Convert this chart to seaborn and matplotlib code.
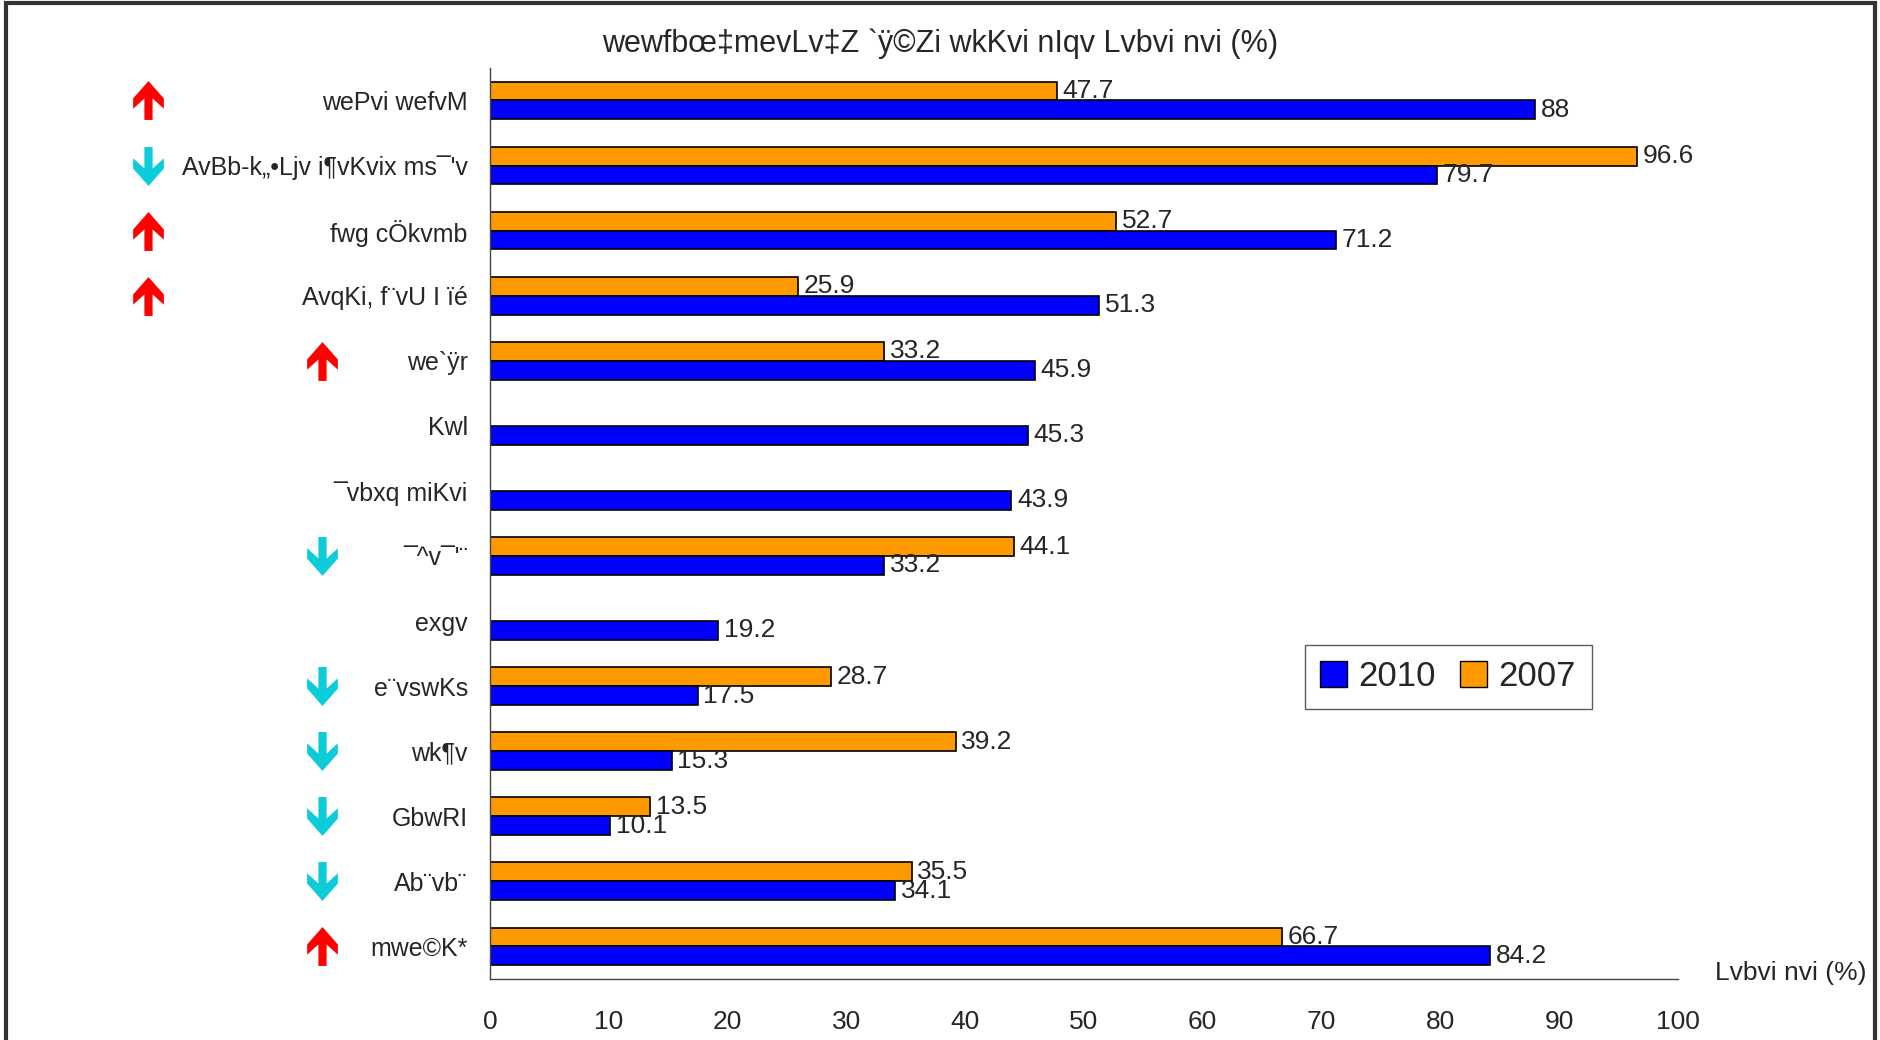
import numpy as np
import pandas as pd
import seaborn as sns
import matplotlib.pyplot as plt
import matplotlib.transforms as mtransforms
from matplotlib.path import Path
from matplotlib.patches import Patch, Rectangle

# data (labels in SutonnyMJ-style encoded Bangla, as in the source)
categories = ["wePvi wefvM", "AvBb-k„•Ljv i¶vKvix ms¯'v", "fwg cÖkvmb", "AvqKi, f¨vU I ïé",
              "we`ÿr", "Kwl", "¯vbxq miKvi", "¯^v¯'¨", "exgv", "e¨vswKs", "wk¶v", "GbwRI",
              "Ab¨vb¨", "mwe©K*"]
vals_2010 = [88, 79.7, 71.2, 51.3, 45.9, 45.3, 43.9, 33.2, 19.2, 17.5, 15.3, 10.1, 34.1, 84.2]
vals_2007 = [47.7, 96.6, 52.7, 25.9, 33.2, np.nan, np.nan, 44.1, np.nan, 28.7, 39.2, 13.5, 35.5, 66.7]
trend = ['up', 'down', 'up', 'up', 'up', None, None, 'down', None, 'down', 'down', 'down', 'down', 'up']
title = "wewfbœ‡mevLv‡Z `ÿ©Zi wkKvi nIqv Lvbvi nvi (%)"
xlabel = "Lvbvi nvi (%)"

df = pd.DataFrame({
    'cat': categories * 2,
    'year': ['2007'] * len(categories) + ['2010'] * len(categories),
    'val': vals_2007 + vals_2010,
})

sns.set_style('white')
plt.rcParams['font.family'] = ['Liberation Sans', 'DejaVu Sans']

colors = {'2010': '#0000FF', '2007': '#FF9900'}

fig = plt.figure(figsize=(18.81, 10.40), dpi=100)
ax = fig.add_axes([0.2605, 0.0587, 0.6315, 0.876])

sns.barplot(data=df, x='val', y='cat', hue='year', hue_order=['2007', '2010'],
            palette=colors, saturation=1, orient='h', width=0.58, gap=0, edgecolor='black',
            linewidth=1.2, legend=False, ax=ax)

for cont in ax.containers:
    ax.bar_label(cont, fmt='{:g}', padding=4, fontsize=19)

ax.set_xlim(0, 100)
ax.set_ylim(len(categories) - 0.5, -0.5)
ax.set_xticks(np.arange(0, 101, 10))
ax.tick_params(axis='x', labelsize=19, length=5, width=1, pad=17, direction='out', color='#444')
ax.set_yticks(np.arange(-0.5, len(categories), 1))
ax.set_yticklabels([])
ax.set_yticks(np.arange(len(categories)), minor=True)
ax.set_yticklabels(categories, minor=True, fontsize=18)
ax.tick_params(axis='y', which='major', length=7, width=1, direction='out', color='#444')
ax.tick_params(axis='y', which='minor', length=0, pad=16)
ax.set_xlabel('')
ax.set_ylabel('')
sns.despine(ax=ax)
for s in ['left', 'bottom']:
    ax.spines[s].set_color('#444')
    ax.spines[s].set_linewidth(1)

ax.text(1.031, 0.006, xlabel, transform=ax.transAxes, fontsize=19, va='center', ha='left')
fig.text(0.5, 0.958, title, fontsize=22, ha='center', va='center')

handles = [Patch(facecolor=colors['2010'], edgecolor='black', label='2010'),
           Patch(facecolor=colors['2007'], edgecolor='black', label='2007')]
leg = ax.legend(handles=handles, loc='upper left', bbox_to_anchor=(0.686, 0.367), ncol=2,
                fontsize=25, frameon=True, fancybox=False, handlelength=0.75, handleheight=0.75,
                handletextpad=0.35, columnspacing=0.7, borderpad=0.45, borderaxespad=0)
leg.get_frame().set_edgecolor('#333')
leg.get_frame().set_linewidth(1)

# trend arrows: chevron-style block arrow markers
down_v = [(-4, 19), (4, 19), (4, -2), (15, 8), (15, -2), (0, -19), (-15, -2), (-15, 8), (-4, -2), (-4, 19)]
down_arrow = Path(down_v, closed=True)
up_arrow = Path([(x, -y) for x, y in down_v], closed=True)

blend = mtransforms.blended_transform_factory(fig.transFigure, ax.transData)
for i, d in enumerate(trend):
    if d is None:
        continue
    xf = 0.0787 if i < 4 else 0.171
    mk = up_arrow if d == 'up' else down_arrow
    col = '#FF0000' if d == 'up' else '#0BCCD8'
    ax.plot([xf], [i], marker=mk, markersize=28, color=col, mew=0, linestyle='none',
            transform=blend, clip_on=False)

fig.patches.append(Rectangle((0.003, -0.01), 0.994, 1.007, transform=fig.transFigure,
                             fill=False, edgecolor='#333', linewidth=3))

fig.savefig('out.png', dpi=100)
